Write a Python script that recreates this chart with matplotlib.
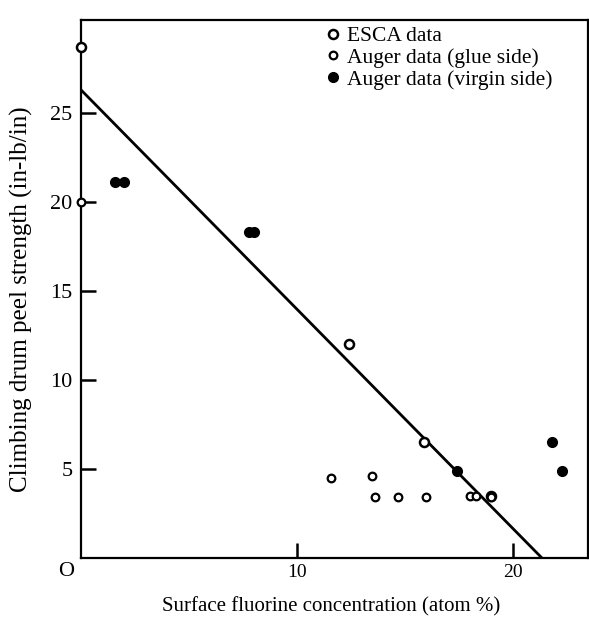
import numpy as np
import matplotlib.pyplot as plt

plt.rcParams['font.family'] = ['Liberation Serif', 'DejaVu Serif']

# ESCA data (larger open circles)
esca_x = [0.0, 12.4, 15.9, 19.0]
esca_y = [28.7, 12.0, 6.5, 3.5]

# Auger data, glue side (small open circles)
glue_x = [0.0, 11.6, 13.5, 13.6, 14.7, 16.0, 18.0, 18.3, 19.0]
glue_y = [20.0, 4.5, 4.6, 3.4, 3.4, 3.4, 3.5, 3.5, 3.4]

# Auger data, virgin side (filled circles)
virgin_x = [1.6, 2.0, 7.8, 8.0, 17.4, 21.8, 22.3]
virgin_y = [21.1, 21.1, 18.3, 18.3, 4.9, 6.5, 4.9]

# fitted line end points
fit_x = [0.0, 21.35]
fit_y = [26.3, 0.0]

fig = plt.figure(figsize=(5.89, 6.19), dpi=100)
ax = fig.add_axes([0.137, 0.0985, 0.862, 0.869])

ax.plot(fit_x, fit_y, color='black', lw=2.0, zorder=2)
ax.plot(esca_x, esca_y, 'o', ms=6.5, mfc='white', mec='black', mew=1.8,
        ls='none', label='ESCA data', zorder=3, clip_on=False)
ax.plot(glue_x, glue_y, 'o', ms=5.5, mfc='white', mec='black', mew=1.6,
        ls='none', label='Auger data (glue side)', zorder=3, clip_on=False)
ax.plot(virgin_x, virgin_y, 'o', ms=7, mfc='black', mec='black',
        ls='none', label='Auger data (virgin side)', zorder=3)

ax.set_xlim(0, 23.5)
ax.set_ylim(0, 30.2)

ax.set_xticks([10, 20])
ax.set_yticks([5, 10, 15, 20, 25])
ax.tick_params(direction='in', length=11, width=1.8)
ax.tick_params(axis='x', labelsize=14, pad=4)
ax.tick_params(axis='y', labelsize=16, pad=6)
ax.text(-0.3, -0.2, 'O', fontsize=16, ha='right', va='top')

for s in ax.spines.values():
    s.set_linewidth(1.6)

ax.set_xlabel('Surface fluorine concentration (atom %)', fontsize=15)
ax.set_ylabel('Climbing drum peel strength (in-lb/in)', fontsize=18)
ax.xaxis.set_label_coords(0.494, -0.073)
ax.yaxis.set_label_coords(-0.093, 0.481)

ax.legend(loc='upper left', bbox_to_anchor=(0.484, 0.989), frameon=False,
          fontsize=15.5, handlelength=0.6, handletextpad=0.35,
          labelspacing=0.08, borderaxespad=0, borderpad=0)

plt.savefig('out.png', dpi=100)
